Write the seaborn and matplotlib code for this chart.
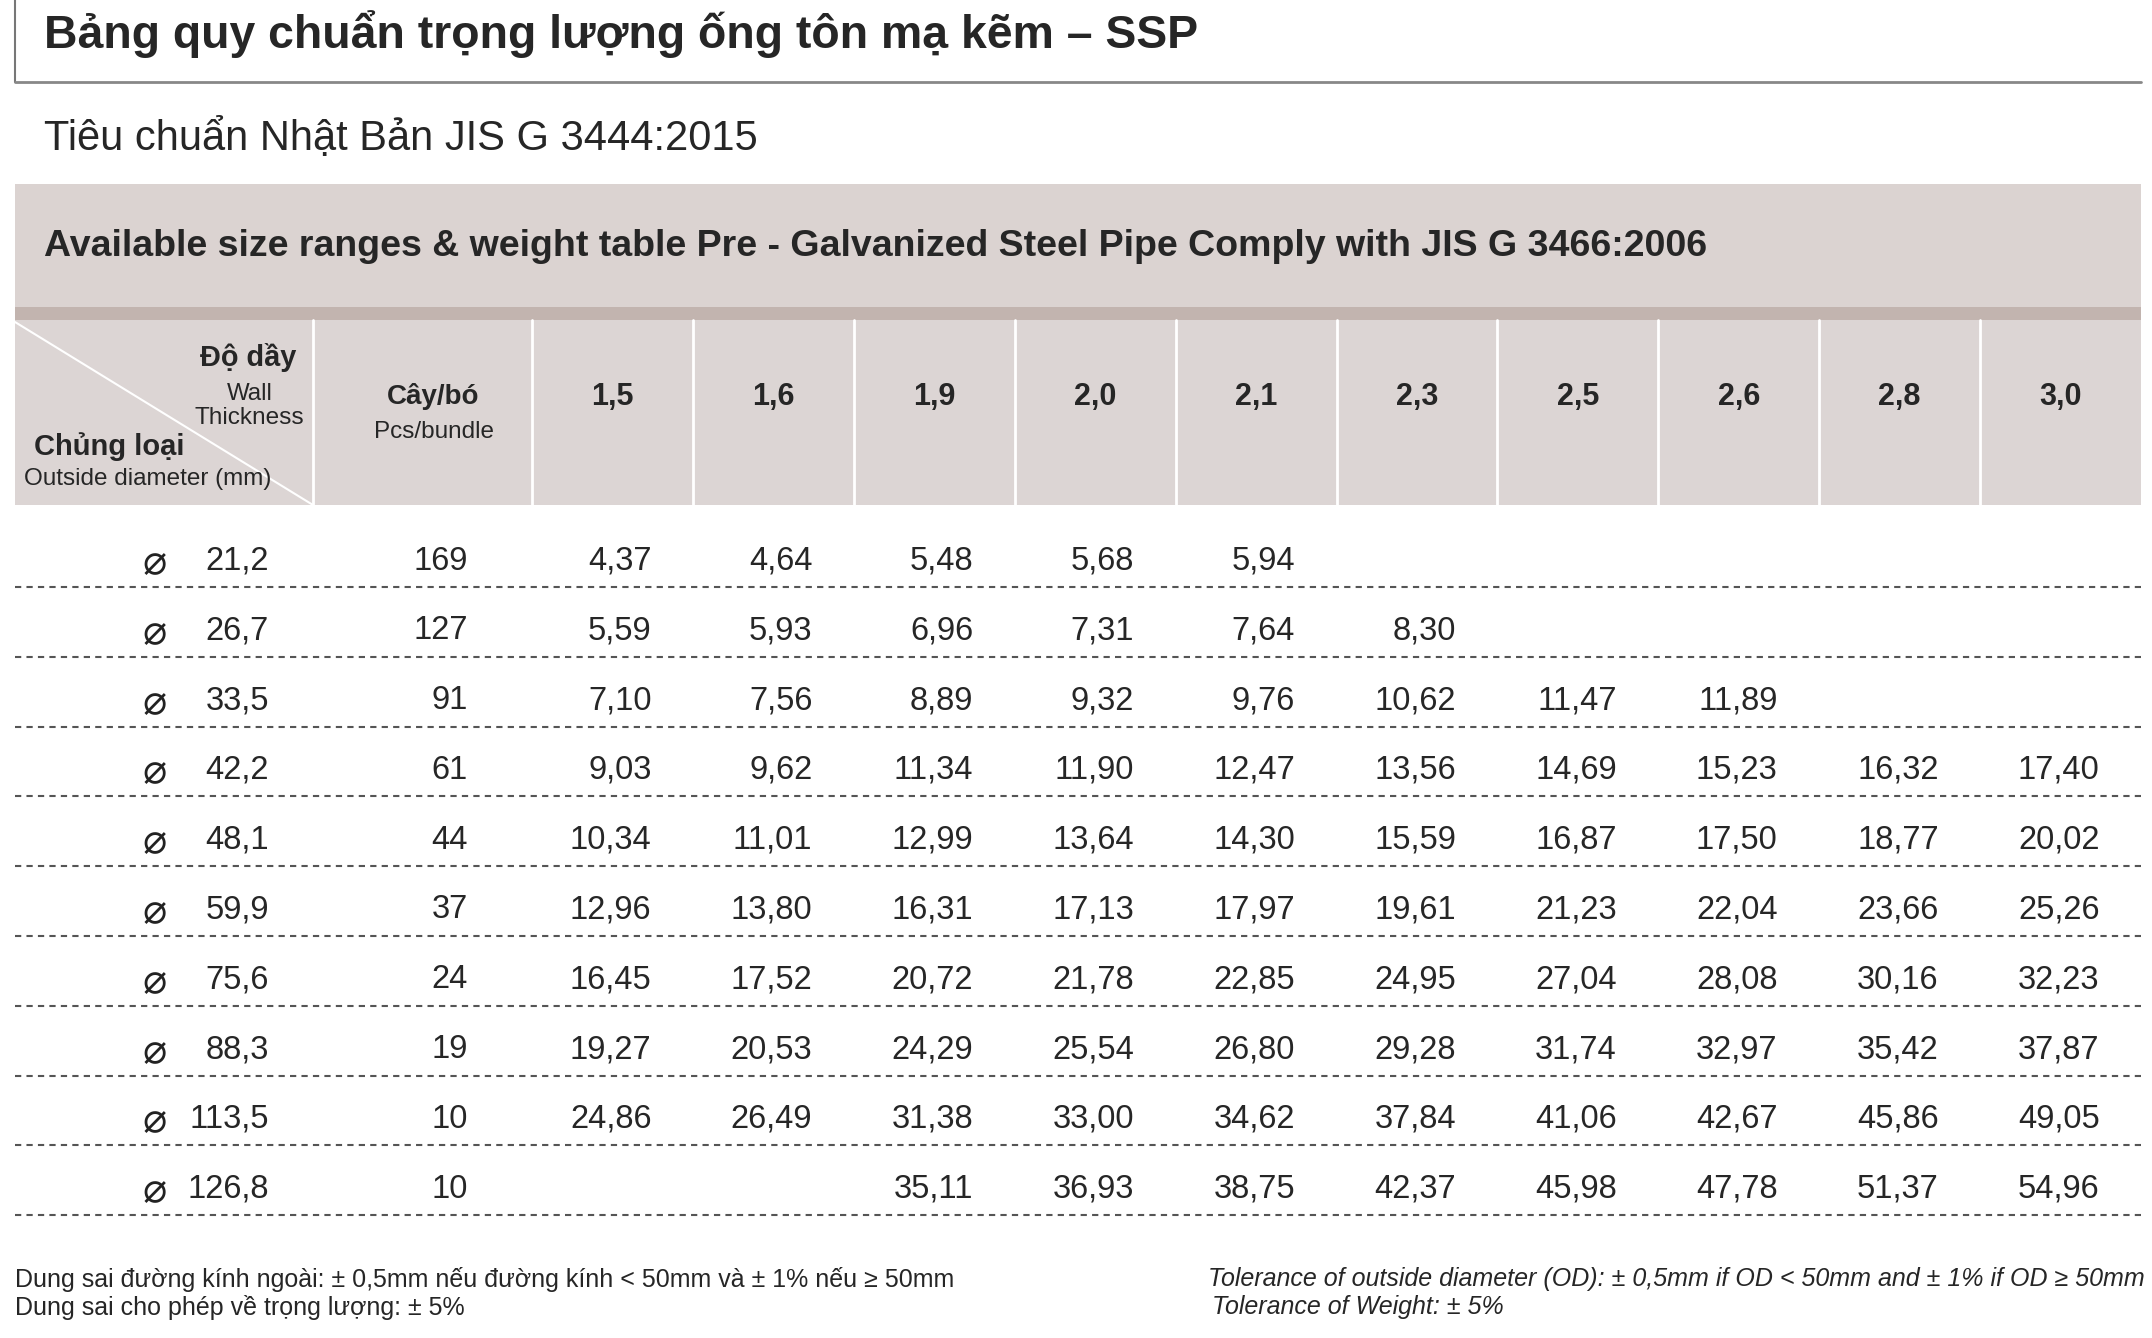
import matplotlib
matplotlib.use("Agg")
import matplotlib.pyplot as plt
import seaborn as sns
import numpy as np
import pandas as pd

# --- data -------------------------------------------------------------
title = "Bảng quy chuẩn trọng lượng ống tôn mạ kẽm – SSP"
subtitle = "Tiêu chuẩn Nhật Bản JIS G 3444:2015"
banner = "Available size ranges & weight table Pre - Galvanized Steel Pipe Comply with JIS G 3466:2006"

thickness = ["1,5", "1,6", "1,9", "2,0", "2,1", "2,3", "2,5", "2,6", "2,8", "3,0"]
diameters = ["21,2", "26,7", "33,5", "42,2", "48,1", "59,9", "75,6", "88,3", "113,5", "126,8"]
pcs_bundle = [169, 127, 91, 61, 44, 37, 24, 19, 10, 10]

w_21_2 = [4.37, 4.64, 5.48, 5.68, 5.94, None, None, None, None, None]
w_26_7 = [5.59, 5.93, 6.96, 7.31, 7.64, 8.30, None, None, None, None]
w_33_5 = [7.10, 7.56, 8.89, 9.32, 9.76, 10.62, 11.47, 11.89, None, None]
w_42_2 = [9.03, 9.62, 11.34, 11.90, 12.47, 13.56, 14.69, 15.23, 16.32, 17.40]
w_48_1 = [10.34, 11.01, 12.99, 13.64, 14.30, 15.59, 16.87, 17.50, 18.77, 20.02]
w_59_9 = [12.96, 13.80, 16.31, 17.13, 17.97, 19.61, 21.23, 22.04, 23.66, 25.26]
w_75_6 = [16.45, 17.52, 20.72, 21.78, 22.85, 24.95, 27.04, 28.08, 30.16, 32.23]
w_88_3 = [19.27, 20.53, 24.29, 25.54, 26.80, 29.28, 31.74, 32.97, 35.42, 37.87]
w_113_5 = [24.86, 26.49, 31.38, 33.00, 34.62, 37.84, 41.06, 42.67, 45.86, 49.05]
w_126_8 = [None, None, 35.11, 36.93, 38.75, 42.37, 45.98, 47.78, 51.37, 54.96]

footer_vi = ["Dung sai đường kính ngoài: ± 0,5mm nếu đường kính < 50mm và ± 1% nếu ≥ 50mm",
             "Dung sai cho phép về trọng lượng: ± 5%"]
footer_en = ["Tolerance of outside diameter (OD): ± 0,5mm if OD < 50mm and ± 1% if OD ≥ 50mm",
             "Tolerance of Weight: ± 5%"]

weights = pd.DataFrame([w_21_2, w_26_7, w_33_5, w_42_2, w_48_1,
                        w_59_9, w_75_6, w_88_3, w_113_5, w_126_8],
                       index=diameters, columns=thickness)

# --- style ------------------------------------------------------------
sns.set_theme(style="white")
FONT = ["Liberation Sans Narrow", "Liberation Sans", "DejaVu Sans"]
plt.rcParams["font.family"] = FONT

W, H = 2152, 1338
fig = plt.figure(figsize=(W / 100, H / 100), dpi=100)
ax = fig.add_axes([0, 0, 1, 1])
ax.set_xlim(0, W)
ax.set_ylim(H, 0)
ax.axis("off")
renderer = fig.canvas.get_renderer()


def fit_text(x, y, s, width, **kw):
    # draw text and rescale the font so it spans the given pixel width
    t = ax.text(x, y, s, fontsize=20, **kw)
    bb = t.get_window_extent(renderer)
    t.set_fontsize(20 * width / bb.width)
    return t


def fmt(v):
    return "" if v is None or pd.isna(v) else f"{v:.2f}".replace(".", ",")


LEFT, RIGHT = 15, 2141
BANNER_C = "#dbd3d1"
STRIP_C = "#c2b4af"
HEAD_C = "#dcd5d4"

# title block
ax.plot([LEFT, LEFT], [0, 82], color="#777777", lw=1.5)
ax.plot([LEFT, RIGHT], [82, 82], color="#888888", lw=2)
fit_text(44, 34, title, 1153, weight="bold", va="center", ha="left")
fit_text(44, 138, subtitle, 712, va="center", ha="left")

# banner
ax.add_patch(plt.Rectangle((LEFT, 184), RIGHT - LEFT, 123, color=BANNER_C, lw=0))
ax.add_patch(plt.Rectangle((LEFT, 307), RIGHT - LEFT, 13, color=STRIP_C, lw=0))
fit_text(44, 247, banner, 1662, weight="bold", va="center", ha="left")

# header row
HEAD_TOP, HEAD_BOT = 320, 505
ax.add_patch(plt.Rectangle((LEFT, HEAD_TOP), RIGHT - LEFT, HEAD_BOT - HEAD_TOP, color=HEAD_C, lw=0))
col_edges = [LEFT, 313, 532] + list(np.linspace(532, RIGHT, len(thickness) + 1)[1:])
for xe in col_edges[1:-1]:
    ax.plot([xe, xe], [HEAD_TOP, HEAD_BOT], color="white", lw=2)
ax.plot([LEFT, 313], [HEAD_TOP + 2, HEAD_BOT], color="white", lw=1.5)

fit_text(248, 357, "Độ dầy", 96, weight="bold", va="center", ha="center")
fit_text(250, 394, "Wall", 46, va="center", ha="center")
fit_text(249, 418, "Thickness", 110, va="center", ha="center")
fit_text(109, 447, "Chủng loại", 150, weight="bold", va="center", ha="center")
fit_text(148, 479, "Outside diameter (mm)", 248, va="center", ha="center")

pcs_center = (col_edges[1] + col_edges[2]) / 2
ax.text(pcs_center + 11, 396, "Cây/bó", fontsize=20, weight="bold", va="center", ha="center")
ax.text(pcs_center + 11, 432, "Pcs/bundle", fontsize=17.5, va="center", ha="center")

th_centers = [(col_edges[i + 2] + col_edges[i + 3]) / 2 for i in range(len(thickness))]
for xc, lab in zip(th_centers, thickness):
    ax.text(xc, 397, lab, fontsize=22, weight="bold", va="center", ha="center")

# body rows
ROW0, ROW_H = 561, 69.8
for i, dia in enumerate(weights.index):
    yc = ROW0 + i * ROW_H
    ax.text(155, yc + 2, "⌀", fontsize=29, va="center", ha="center",
            family=["DejaVu Sans"], color="#222222")
    ax.text(269, yc, dia, fontsize=23.5, va="center", ha="right")
    ax.text(468, yc, str(pcs_bundle[i]), fontsize=23.5, va="center", ha="right")
    for j, th in enumerate(weights.columns):
        ax.text(th_centers[j] + 39, yc, fmt(weights.loc[dia, th]),
                fontsize=23.5, va="center", ha="right")
    ax.plot([LEFT, RIGHT], [yc + 26, yc + 26], color="#555555", lw=1.5,
            dashes=(3, 2.5))

# footer notes
t = fit_text(15, 1279, footer_vi[0], 939, va="center", ha="left")
ax.text(15, 1307, footer_vi[1], fontsize=t.get_fontsize(), va="center", ha="left")
t = fit_text(2145, 1279, footer_en[0], 933, va="center", ha="right", style="italic")
ax.text(1212, 1307, footer_en[1], fontsize=t.get_fontsize(), va="center",
        ha="left", style="italic")

fig.savefig("out.png", dpi=100)
